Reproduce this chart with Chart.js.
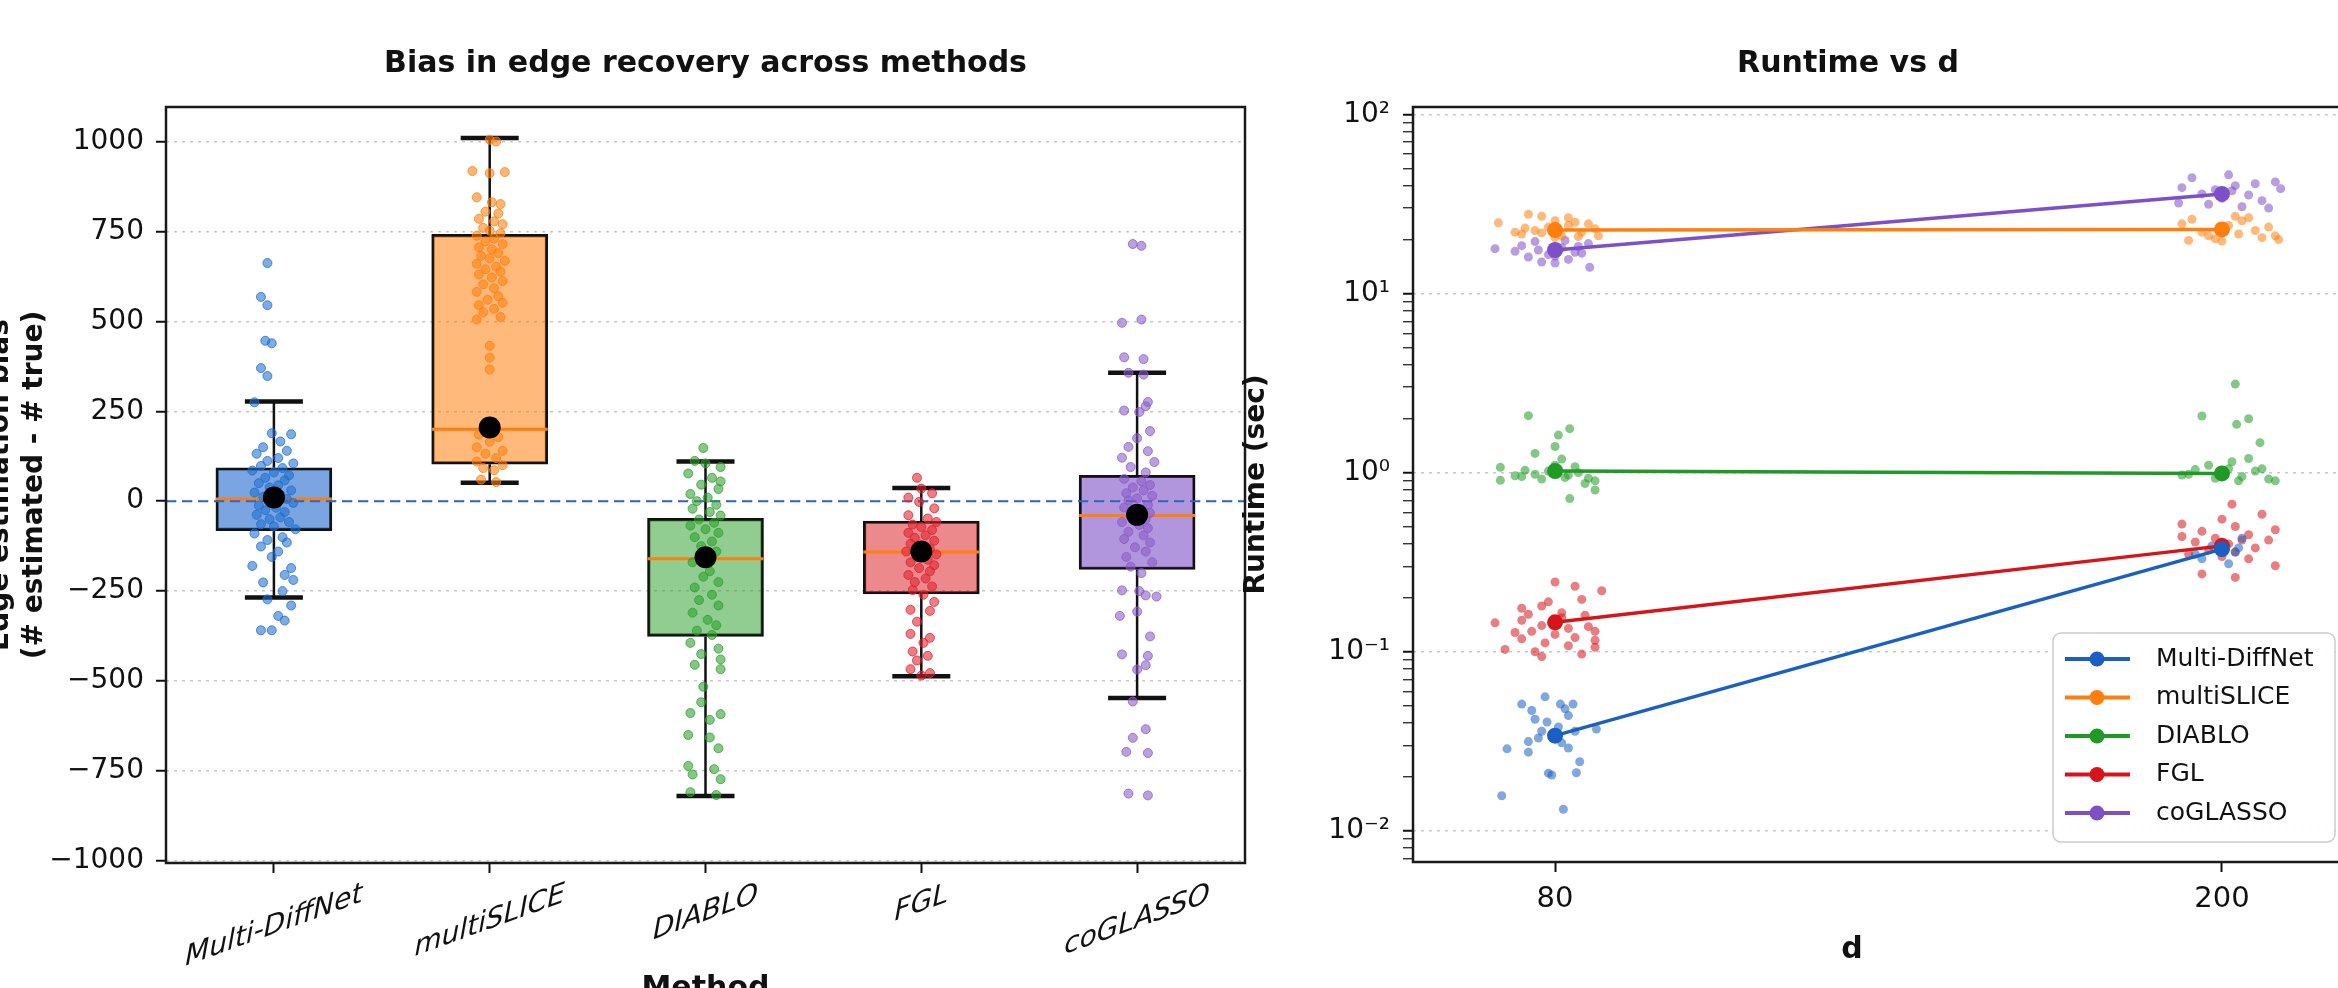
<!DOCTYPE html>
<html>
<head>
<meta charset="utf-8">
<script src="https://cdn.jsdelivr.net/npm/chart.js@4.4.1/dist/chart.umd.min.js"></script>
<style>
  html, body { margin: 0; padding: 0; background: #fff; overflow: hidden; }
  #wrap { position: relative; width: 2338px; height: 988px; overflow: hidden; background: #fff; }
  #biasChart { position: absolute; left: -40px; top: 0; }
  #timeChart { position: absolute; left: 1200px; top: 0; }
</style>
</head>
<body>
<div id="wrap">
  <canvas id="biasChart" width="1300" height="1010"></canvas>
  <canvas id="timeChart" width="1296" height="988"></canvas>
</div>
<script>
const methods = ['Multi-DiffNet', 'multiSLICE', 'DIABLO', 'FGL', 'coGLASSO'];

// box summaries
const whiskerLow  = [-268, 51, -820, -487, -547];
const quart1      = [-82, 103, -376, -258, -190];
const medians     = [6, 200, -160, -141, -40];
const quart3      = [93, 742, -48, -55, 72];
const whiskerHigh = [277, 1010, 110, 37, 357];
const meanBias    = [10, 205, -156, -140, -38];

// individual runs: [offset from category centre, bias]
const ptsMultiDiffNet = [[-0.03,662],[-0.06,568],[-0.03,545],[-0.04,446],[-0.01,439],[-0.06,370],[-0.03,348],[-0.09,275],
  [-0.01,189],[0.08,186],[0.03,166],[-0.05,150],[0.06,140],[-0.08,132],[0.02,120],[-0.03,112],[0.09,105],[-0.06,98],
  [0.04,92],[-0.1,85],[0.0,80],[0.07,72],[-0.04,65],[0.05,58],[-0.07,50],[0.02,44],[-0.02,38],[0.08,30],[-0.09,24],
  [0.03,18],[-0.05,12],[0.06,6],[-0.01,0],[0.09,-5],[-0.07,-12],[0.01,-18],[-0.04,-25],[0.05,-30],[-0.08,-38],[0.03,-45],
  [-0.02,-50],[0.07,-58],[-0.06,-64],[0.0,-70],[0.1,-78],[-0.09,-90],[0.04,-100],[-0.03,-108],[0.06,-115],[-0.06,-126],
  [0.02,-140],[-0.01,-155],[-0.1,-180],[0.08,-186],[0.05,-205],[0.09,-219],[-0.05,-226],[0.04,-250],[-0.03,-273],
  [0.08,-290],[0.02,-319],[0.05,-332],[-0.06,-359],[-0.01,-359]];
const ptsMultiSLICE = [[0.0,1005],[0.03,1000],[-0.08,918],[0.0,912],[0.07,915],[-0.06,845],[0.01,831],[0.05,826],
  [-0.02,805],[0.04,800],[-0.05,785],[0.02,778],[0.06,770],[-0.03,760],[0.0,752],[0.05,745],[-0.06,738],[0.02,730],
  [-0.02,722],[0.06,715],[-0.05,706],[0.01,700],[0.04,690],[-0.04,682],[0.0,675],[0.07,668],[-0.06,660],[0.03,652],
  [-0.02,645],[0.05,638],[-0.05,630],[0.01,622],[0.06,612],[-0.03,603],[0.02,592],[-0.06,582],[0.04,570],[-0.01,560],
  [0.06,552],[-0.05,545],[0.02,535],[-0.03,525],[0.05,512],[-0.06,505],[0.0,432],[0.0,399],[0.0,366],[-0.05,185],
  [0.04,178],[0.0,165],[-0.06,150],[0.06,140],[-0.02,132],[0.03,120],[-0.06,110],[0.06,100],[-0.03,92],[0.02,86],
  [-0.04,60],[0.03,53]];
const ptsDIABLO = [[-0.01,148],[-0.05,112],[0.0,105],[0.07,95],[-0.08,77],[0.03,65],[0.07,55],[-0.02,46],[0.06,34],
  [-0.07,20],[0.01,10],[-0.04,0],[0.05,-10],[-0.06,-21],[0.02,-30],[0.07,-40],[-0.03,-51],[0.04,-60],[-0.07,-68],
  [0.0,-78],[0.06,-88],[-0.05,-100],[0.03,-112],[-0.02,-125],[0.05,-140],[-0.06,-170],[0.02,-195],[-0.01,-210],
  [0.06,-225],[-0.05,-240],[0.03,-260],[-0.03,-275],[0.06,-290],[-0.06,-310],[0.01,-330],[0.05,-345],[-0.04,-360],
  [0.03,-372],[-0.07,-394],[0.06,-410],[-0.02,-425],[0.07,-440],[-0.05,-455],[0.07,-467],[-0.01,-516],[-0.02,-559],
  [-0.07,-589],[0.07,-592],[0.02,-608],[-0.08,-650],[0.02,-657],[0.06,-687],[-0.08,-736],[0.04,-745],[-0.06,-760],
  [0.07,-773],[-0.07,-809],[0.05,-817]];
const ptsFGL = [[-0.02,65],[0.0,35],[0.05,22],[-0.06,10],[-0.01,-2],[0.06,-20],[-0.06,-39],[0.03,-48],[0.07,-58],
  [-0.04,-65],[0.0,-72],[0.05,-80],[-0.06,-88],[0.02,-95],[-0.03,-102],[0.06,-110],[-0.05,-118],[0.01,-125],[0.04,-132],
  [-0.07,-140],[0.07,-148],[-0.02,-155],[0.03,-163],[-0.05,-170],[0.06,-178],[-0.01,-186],[0.04,-195],[-0.06,-205],
  [0.02,-215],[-0.03,-225],[0.05,-237],[-0.04,-247],[0.01,-260],[0.06,-280],[-0.05,-302],[0.04,-305],[-0.02,-335],
  [-0.05,-369],[0.04,-380],[0.01,-394],[-0.04,-418],[0.03,-430],[-0.02,-443],[-0.05,-467],[0.04,-478],[0.0,-485]];
const ptsCoGLASSO = [[-0.02,715],[0.02,710],[0.02,505],[-0.07,496],[-0.06,400],[0.03,395],[-0.04,357],[0.03,352],
  [0.05,276],[0.04,264],[-0.06,252],[0.01,248],[0.06,195],[0.0,175],[-0.04,151],[0.05,139],[-0.07,121],[0.08,109],
  [-0.03,95],[0.04,80],[-0.06,62],[0.02,55],[0.06,45],[-0.02,38],[0.03,30],[-0.05,22],[0.07,15],[0.0,8],[-0.04,2],
  [0.05,-10],[-0.06,-18],[0.02,-25],[0.06,-33],[-0.03,-42],[0.04,-50],[-0.07,-58],[0.01,-66],[0.05,-75],[-0.04,-85],
  [0.03,-95],[-0.06,-105],[0.06,-115],[-0.01,-128],[0.04,-140],[-0.05,-155],[0.07,-170],[-0.03,-182],[0.02,-200],
  [-0.07,-248],[0.01,-250],[0.04,-262],[0.09,-265],[0.0,-307],[-0.08,-319],[0.06,-376],[-0.07,-426],[0.05,-430],
  [0.04,-456],[0.0,-468],[-0.02,-557],[0.04,-634],[-0.02,-658],[-0.05,-697],[0.05,-700],[-0.04,-813],[0.05,-818]];
const biasPoints = [ptsMultiDiffNet, ptsMultiSLICE, ptsDIABLO, ptsFGL, ptsCoGLASSO];
const biasTicks = [-1000, -750, -500, -250, 0, 250, 500, 750, 1000];

// runtime panel
const dValues = [80, 200];
const runtimeMean = [[0.034, 0.374], [22.6, 22.8], [1.02, 0.99], [0.146, 0.39], [17.5, 36.0]];
// runs at each d: [offset from d position, seconds]
const rtMultiDiffNet80 = [[-0.015,0.056],[-0.05,0.051],[0.008,0.051],[0.027,0.051],[-0.035,0.047],[0.015,0.048],
  [0.02,0.044],[-0.012,0.0405],[-0.03,0.042],[0.005,0.038],[0.03,0.036],[-0.02,0.036],[0.062,0.037],[-0.04,0.0315],
  [0.01,0.031],[-0.072,0.0287],[-0.04,0.0275],[0.02,0.029],[0.037,0.0243],[-0.01,0.021],[-0.005,0.0205],[0.032,0.0211],
  [-0.08,0.0157],[0.0125,0.0132],[-0.025,0.033]];
const rtMultiDiffNet200 = [[-0.03,0.33],[0.02,0.36],[0.0,0.41],[-0.015,0.39],[0.03,0.43],[-0.04,0.35],[0.01,0.31],[0.025,0.38]];
const rtMultiSLICE80 = [[-0.085,24.8],[-0.04,27.7],[-0.02,27.0],[0.0,25.5],[0.02,26.5],[0.03,25.0],[-0.05,21.5],
  [-0.03,22.5],[-0.01,23.5],[0.01,21.0],[0.04,22.0],[0.06,23.0],[0.065,21.0],[-0.06,22.0],[0.0,20.5],[0.02,24.0],
  [-0.02,21.8],[0.05,24.5],[-0.045,23.2],[0.035,20.8]];
const rtMultiSLICE200 = [[-0.06,24.5],[-0.045,26.0],[-0.02,21.0],[0.0,23.0],[0.02,27.0],[0.03,25.5],[0.05,22.5],
  [0.06,20.5],[0.08,21.0],[0.085,20.0],[-0.05,19.8],[-0.01,20.2],[0.01,24.0],[0.04,26.5],[-0.03,22.0],[0.07,23.5],
  [0.0,19.6],[0.025,21.5]];
const rtDIABLO80 = [[-0.04,2.08],[0.022,1.76],[0.005,1.62],[0.0,1.4],[-0.03,1.28],[0.01,1.19],[-0.082,1.07],
  [-0.082,0.906],[0.06,0.8],[0.022,0.716],[-0.05,0.95],[-0.03,0.98],[-0.01,1.02],[0.005,1.05],[0.02,0.97],[0.035,1.0],
  [0.05,0.93],[0.06,0.9],[-0.02,0.92],[0.0,1.1],[0.03,1.08],[-0.045,1.03],[0.015,0.94],[0.045,0.87],[-0.06,0.96]];
const rtDIABLO200 = [[0.02,3.12],[-0.03,2.07],[0.04,2.0],[0.022,1.86],[0.057,1.47],[-0.05,0.98],[0.0,1.0],[0.01,1.05],
  [-0.02,1.1],[0.03,0.95],[0.05,1.02],[-0.04,1.04],[0.07,0.92],[0.08,0.9],[-0.01,0.93],[0.015,1.15],[0.04,1.2],
  [-0.06,0.97],[0.06,1.05],[0.025,0.9]];
const rtFGL80 = [[0.0,0.245],[0.03,0.232],[0.07,0.219],[0.04,0.196],[-0.05,0.175],[-0.02,0.18],[0.01,0.165],
  [-0.04,0.162],[0.045,0.16],[-0.09,0.145],[-0.05,0.15],[-0.02,0.14],[0.02,0.135],[0.05,0.138],[-0.035,0.13],[0.0,0.125],
  [0.03,0.12],[-0.05,0.118],[0.06,0.116],[-0.015,0.112],[0.02,0.108],[0.06,0.106],[-0.075,0.103],[-0.03,0.1],
  [-0.02,0.094],[0.04,0.097],[0.01,0.155],[-0.01,0.19],[0.06,0.13],[-0.06,0.128]];
const rtFGL200 = [[0.015,0.667],[0.06,0.586],[-0.06,0.516],[0.0,0.55],[0.02,0.5],[-0.03,0.47],[0.04,0.45],[-0.01,0.43],
  [0.03,0.42],[-0.04,0.41],[0.01,0.4],[0.05,0.38],[-0.02,0.37],[0.02,0.36],[-0.05,0.35],[0.0,0.34],[0.04,0.33],
  [0.08,0.302],[-0.03,0.272],[0.02,0.26],[0.07,0.42],[0.08,0.48],[-0.06,0.44]];
const rtCoGLASSO80 = [[-0.09,17.8],[-0.05,18.5],[-0.03,19.5],[-0.01,16.5],[0.01,18.0],[0.03,17.0],[0.05,19.0],
  [-0.04,16.0],[-0.02,15.0],[0.0,14.8],[0.02,15.5],[0.04,16.8],[0.052,14.0],[-0.06,17.2],[0.015,19.8],[-0.025,17.5],
  [0.035,18.3],[0.0,16.2]];
const rtCoGLASSO200 = [[-0.045,44.3],[0.01,46.0],[0.08,42.0],[0.088,38.5],[-0.06,39.0],[-0.03,36.0],[0.0,34.0],
  [0.02,40.0],[0.04,35.5],[0.06,33.0],[-0.02,31.5],[0.03,30.5],[-0.065,32.0],[0.015,37.5],[0.05,41.0],[0.07,30.0],
  [-0.01,38.0]];
const runtimePoints = [
  [rtMultiDiffNet80, rtMultiDiffNet200],
  [rtMultiSLICE80, rtMultiSLICE200],
  [rtDIABLO80, rtDIABLO200],
  [rtFGL80, rtFGL200],
  [rtCoGLASSO80, rtCoGLASSO200]
];
const decadeTicks = [0.01, 0.1, 1, 10, 100];
const decadeLabels = ['10\u207B\u00B2', '10\u207B\u00B9', '10\u2070', '10\u00B9', '10\u00B2'];

// styling
const FONT = '"DejaVu Sans", sans-serif';
const methodColors = ['#1f6fd0', '#ff7f0e', '#2ca02c', '#e0202c', '#8a5cc8'];
const lineColors = ['#1a5fc4', '#ff7f0e', '#1f9a24', '#d7141a', '#7d4fc8'];
const boxFill = ['rgba(40,110,205,0.62)', 'rgba(255,127,14,0.55)', 'rgba(44,160,44,0.52)',
  'rgba(220,40,45,0.55)', 'rgba(130,85,200,0.62)'];

function rgba(hex, a) {
  const n = parseInt(hex.slice(1), 16);
  return `rgba(${n >> 16},${(n >> 8) & 255},${n & 255},${a})`;
}
const fmtMinus = (v) => (v < 0 ? '\u2212' + Math.abs(v) : String(v));

// full black frame round the plotting area
const frame = {
  id: 'frame',
  afterDraw(chart) {
    const { ctx, chartArea: a } = chart;
    ctx.save();
    ctx.strokeStyle = '#1a1a1a';
    ctx.lineWidth = 2.5;
    ctx.strokeRect(a.left, a.top, a.width, a.height);
    ctx.restore();
  }
};

// whiskers, caps, medians and the zero reference, drawn right after the boxes
const boxParts = {
  id: 'boxParts',
  afterDatasetDraw(chart, args) {
    if (args.meta.type !== 'bar') return;
    const { ctx, chartArea: area } = chart;
    const y = chart.scales.y;
    ctx.save();
    args.meta.data.forEach((bar, i) => {
      const cx = bar.x, half = bar.width / 2, cap = bar.width / 4;
      ctx.strokeStyle = '#111';
      ctx.lineWidth = 2.5;
      ctx.beginPath();
      ctx.moveTo(cx, y.getPixelForValue(quart3[i]));
      ctx.lineTo(cx, y.getPixelForValue(whiskerHigh[i]));
      ctx.moveTo(cx, y.getPixelForValue(quart1[i]));
      ctx.lineTo(cx, y.getPixelForValue(whiskerLow[i]));
      ctx.stroke();
      ctx.lineWidth = 4.5;
      ctx.beginPath();
      [whiskerHigh[i], whiskerLow[i]].forEach((v) => {
        const py = y.getPixelForValue(v);
        ctx.moveTo(cx - cap, py);
        ctx.lineTo(cx + cap, py);
      });
      ctx.stroke();
      const pm = y.getPixelForValue(medians[i]);
      ctx.strokeStyle = '#ff7f0e';
      ctx.lineWidth = 3;
      ctx.beginPath();
      ctx.moveTo(cx - half, pm);
      ctx.lineTo(cx + half, pm);
      ctx.stroke();
    });
    const p0 = y.getPixelForValue(0);
    ctx.strokeStyle = '#2f66c4';
    ctx.lineWidth = 2;
    ctx.setLineDash([10, 6]);
    ctx.beginPath();
    ctx.moveTo(area.left, p0);
    ctx.lineTo(area.right, p0);
    ctx.stroke();
    ctx.restore();
  }
};

// slanted category names under the boxes
const methodLabels = {
  id: 'methodLabels',
  afterDraw(chart) {
    const { ctx } = chart;
    const x = chart.scales.x;
    const slant = Math.tan(20 * Math.PI / 180);
    ctx.save();
    ctx.font = 'italic 28px ' + FONT;
    ctx.fillStyle = '#111';
    ctx.textAlign = 'center';
    ctx.textBaseline = 'middle';
    methods.forEach((m, i) => {
      const w = ctx.measureText(m).width;
      const cx = x.getPixelForValue(i);
      const cy = chart.chartArea.bottom + 17 + (w * slant + 28) / 2;
      ctx.save();
      ctx.translate(cx, cy);
      ctx.transform(1, -slant, 0, 1, 0, 0);
      ctx.fillText(m, 0, 0);
      ctx.restore();
    });
    ctx.restore();
  }
};

const runtimeLegend = {
  id: 'runtimeLegend',
  afterDraw(chart) {
    const { ctx, chartArea: a } = chart;
    const right = a.right - 29, bottom = a.bottom - 20;
    const w = 282, h = 209, left = right - w, top = bottom - h;
    ctx.save();
    ctx.fillStyle = 'rgba(255,255,255,0.92)';
    ctx.strokeStyle = '#cccccc';
    ctx.lineWidth = 1.5;
    ctx.beginPath();
    ctx.roundRect(left, top, w, h, 8);
    ctx.fill();
    ctx.stroke();
    ctx.font = '25px ' + FONT;
    ctx.textBaseline = 'middle';
    ctx.textAlign = 'left';
    methods.forEach((m, i) => {
      const cy = top + 26 + i * 38.5;
      ctx.strokeStyle = lineColors[i];
      ctx.lineWidth = 4;
      ctx.beginPath();
      ctx.moveTo(left + 12, cy);
      ctx.lineTo(left + 77, cy);
      ctx.stroke();
      ctx.fillStyle = lineColors[i];
      ctx.beginPath();
      ctx.arc(left + 44, cy, 7.5, 0, 2 * Math.PI);
      ctx.fill();
      ctx.fillStyle = '#111';
      ctx.fillText(m, left + 103, cy);
    });
    ctx.restore();
  }
};

// ---- left panel: bias box plots ----
new Chart(document.getElementById('biasChart'), {
  type: 'bar',
  data: {
    labels: methods,
    datasets: [
      {
        type: 'bar',
        data: methods.map((m, i) => [quart1[i], quart3[i]]),
        backgroundColor: boxFill,
        borderColor: '#111',
        borderWidth: 2.5,
        borderSkipped: false,
        barThickness: 116,
        grouped: false,
        order: 3
      },
      ...methods.map((m, i) => ({
        type: 'scatter',
        label: m,
        xAxisID: 'xj',
        data: biasPoints[i].map(([off, v]) => ({ x: i + off, y: v })),
        backgroundColor: rgba(methodColors[i], 0.58),
        borderColor: rgba(methodColors[i], 0.75),
        borderWidth: 1,
        pointRadius: 4.5,
        order: 2
      })),
      {
        type: 'scatter',
        label: 'mean',
        xAxisID: 'xj',
        data: meanBias.map((v, i) => ({ x: i, y: v })),
        backgroundColor: '#000',
        borderWidth: 0,
        pointRadius: 11,
        order: 0
      }
    ]
  },
  options: {
    responsive: false,
    animation: false,
    layout: { padding: { left: 0, right: 15, top: 0, bottom: 0 } },
    plugins: {
      legend: { display: false },
      tooltip: { enabled: false },
      title: {
        display: true,
        fullSize: false,
        text: 'Bias in edge recovery across methods',
        color: '#111',
        font: { family: FONT, size: 30, weight: 'bold' },
        padding: { top: 46, bottom: 25 }
      }
    },
    scales: {
      x: {
        type: 'category',
        offset: true,
        grid: { offset: false, drawOnChartArea: false, drawTicks: true, tickLength: 10, tickColor: '#111', tickWidth: 2 },
        border: { display: false },
        ticks: { display: false },
        title: {
          display: true,
          text: 'Method',
          color: '#111',
          font: { family: FONT, size: 30, weight: 'bold' },
          padding: { top: 0, bottom: 3 }
        },
        afterFit: (s) => { s.height = 147; }
      },
      xj: { type: 'linear', display: false, offset: false, min: -0.5, max: 4.5, bounds: 'data' },
      y: {
        type: 'linear',
        min: -1006,
        max: 1096,
        bounds: 'data',
        afterBuildTicks: (s) => { s.ticks = biasTicks.map((v) => ({ value: v })); },
        ticks: { color: '#111', font: { family: FONT, size: 28 }, padding: 12, callback: (v) => fmtMinus(v) },
        grid: { color: '#c8c8c8', lineWidth: 1.5, tickColor: '#111', tickWidth: 2, tickLength: 10 },
        border: { display: false, dash: [3, 5] },
        title: {
          display: true,
          text: ['Edge estimation bias', '(# estimated - # true)'],
          color: '#111',
          font: { family: FONT, size: 28, weight: 'bold' },
          padding: { top: 24, bottom: 0 }
        },
        afterFit: (s) => { s.width = 206; }
      }
    }
  },
  plugins: [boxParts, frame, methodLabels]
});

// ---- right panel: runtime vs d on log scale ----
const logTicks = [];
[0.001, 0.01, 0.1, 1, 10].forEach((dec) => {
  for (let k = 1; k <= 9; k++) {
    const v = k * dec;
    if (v >= 0.0067 && v <= 110) logTicks.push(k === 1 ? dec : v);
  }
});
logTicks.push(100);
const isDecade = (v) => decadeTicks.includes(v);

new Chart(document.getElementById('timeChart'), {
  type: 'scatter',
  data: {
    datasets: [
      ...methods.map((m, i) => ({
        label: m,
        showLine: true,
        data: dValues.map((d, k) => ({ x: k, y: runtimeMean[i][k] })),
        borderColor: lineColors[i],
        backgroundColor: lineColors[i],
        borderWidth: 3.5,
        pointRadius: 8,
        pointBorderWidth: 0,
        order: 0
      })),
      ...methods.flatMap((m, i) => runtimePoints[i].map((runs, k) => ({
        label: m + ' runs ' + dValues[k],
        data: runs.map(([off, v]) => ({ x: k + off, y: v })),
        backgroundColor: rgba(lineColors[i], 0.55),
        borderWidth: 0,
        pointRadius: 4.5,
        order: 1
      })))
    ]
  },
  options: {
    responsive: false,
    animation: false,
    layout: { padding: { left: 0, right: 0, top: 0, bottom: 0 } },
    plugins: {
      legend: { display: false },
      tooltip: { enabled: false },
      title: {
        display: true,
        text: 'Runtime vs d',
        color: '#111',
        font: { family: FONT, size: 30, weight: 'bold' },
        padding: { top: 46, bottom: 25 }
      }
    },
    scales: {
      x: {
        type: 'linear',
        min: -0.213,
        max: 1.213,
        bounds: 'data',
        afterBuildTicks: (s) => { s.ticks = dValues.map((d, k) => ({ value: k })); },
        ticks: { color: '#111', font: { family: FONT, size: 29 }, padding: 10, callback: (v) => dValues[v] },
        grid: { drawOnChartArea: false, tickLength: 10, tickColor: '#111', tickWidth: 2 },
        border: { display: false },
        title: {
          display: true,
          text: 'd' + '\u00A0'.repeat(7),
          color: '#111',
          font: { family: FONT, size: 30, weight: 'bold' },
          padding: { top: 0, bottom: 20 }
        },
        afterFit: (s) => { s.height = 126; }
      },
      y: {
        type: 'logarithmic',
        min: 0.0067,
        max: 110,
        bounds: 'data',
        afterBuildTicks: (s) => { s.ticks = logTicks.map((v) => ({ value: v })); },
        ticks: {
          autoSkip: false,
          color: '#111',
          font: { family: FONT, size: 28 },
          padding: 13,
          callback: (v) => { const k = decadeTicks.indexOf(v); return k < 0 ? '' : decadeLabels[k]; }
        },
        grid: {
          color: (c) => (c.tick && isDecade(c.tick.value) ? '#c8c8c8' : 'rgba(0,0,0,0)'),
          lineWidth: 1.5,
          tickColor: '#111',
          tickWidth: (c) => (c.tick && isDecade(c.tick.value) ? 2 : 1.2),
          tickLength: 10
        },
        border: { display: false, dash: [3, 5] },
        title: {
          display: true,
          text: 'Runtime (sec)',
          color: '#111',
          font: { family: FONT, size: 28, weight: 'bold' },
          padding: { top: 40, bottom: 0 }
        },
        afterFit: (s) => { s.width = 213; }
      },
      yr: {
        position: 'right',
        display: true,
        grid: { display: false },
        ticks: { display: false },
        border: { display: false },
        afterFit: (s) => { s.width = 132; }
      }
    }
  },
  plugins: [frame, runtimeLegend]
});
</script>
</body>
</html>
